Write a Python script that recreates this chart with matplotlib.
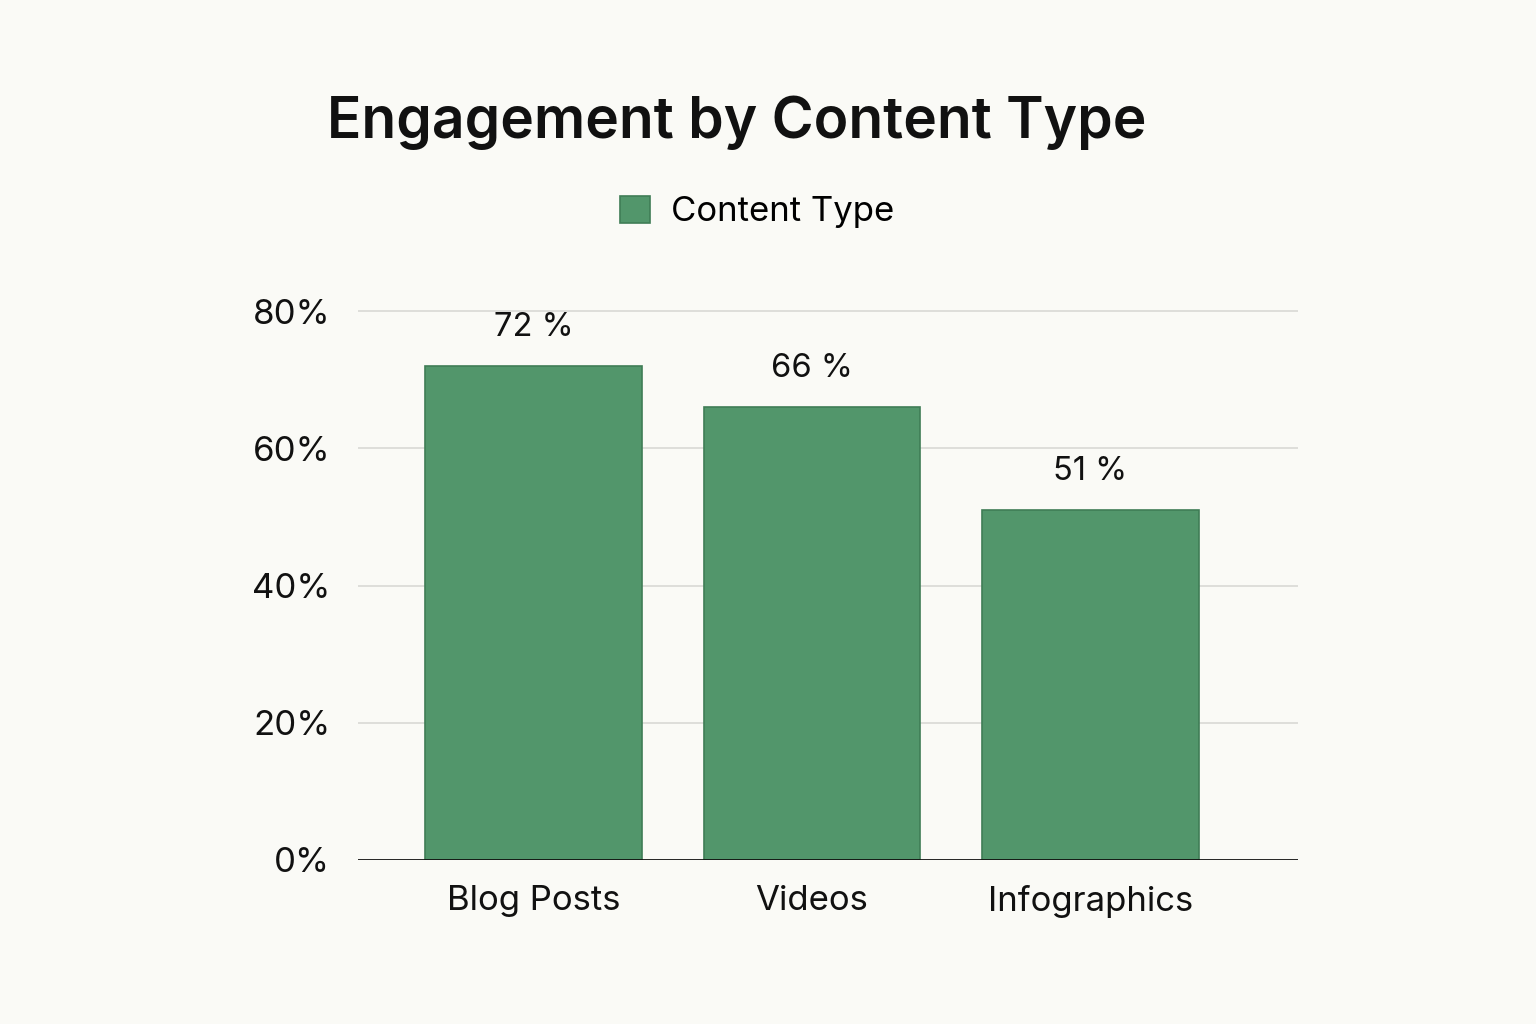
import matplotlib
matplotlib.use("Agg")
import matplotlib.pyplot as plt
from matplotlib.ticker import FuncFormatter

# data
categories = ["Blog Posts", "Videos", "Infographics"]
engagement = [72, 66, 51]
bar_labels = ["72 %", "66 %", "51 %"]
y_ticks = [0, 20, 40, 60, 80]

bg = "#fafaf6"
green = "#52966b"
edge = "#3f7d56"

plt.rcParams["font.family"] = ["Inter", "DejaVu Sans"]

fig = plt.figure(figsize=(15.36, 10.24), dpi=100, facecolor=bg)
ax = fig.add_axes([358 / 1536, 1 - 860 / 1024, 940 / 1536, (860 - 250) / 1024])
ax.set_facecolor(bg)

x = list(range(len(categories)))
bars = ax.bar(x, engagement, width=0.776, color=green, edgecolor=edge,
              linewidth=1.2, label="Content Type", zorder=3)

for b, lab in zip(bars, bar_labels):
    ax.text(b.get_x() + b.get_width() / 2, b.get_height() + 3.3, lab,
            ha="center", va="bottom", fontsize=23.5, color="#111111")

ax.set_xlim(-0.63, 2.745)
ax.set_ylim(0, 80 * 610 / 549)
ax.set_yticks(y_ticks)
ax.yaxis.set_major_formatter(FuncFormatter(lambda v, p: f"{int(v)}%"))
ax.set_xticks(x)
ax.set_xticklabels(categories)
ax.tick_params(axis="both", length=0, labelsize=25, colors="#111111")
ax.tick_params(axis="y", pad=20)
ax.tick_params(axis="x", pad=18)

for t in y_ticks[1:]:
    ax.axhline(t, color="#dcdcd8", linewidth=1.3, zorder=1)
ax.axhline(0, color="#111111", linewidth=2, zorder=4)

for s in ax.spines.values():
    s.set_visible(False)

fig.text(737 / 1536, 1 - 123 / 1024, "Engagement by Content Type",
         ha="center", va="center", fontsize=41, fontweight="semibold",
         color="#111111")

leg = fig.legend(handles=[bars], labels=["Content Type"],
                 loc="center", bbox_to_anchor=(757 / 1536, 1 - 212 / 1024),
                 frameon=False, fontsize=25, handlelength=0.85, handleheight=0.85,
                 handletextpad=0.6)

fig.savefig("out.png", dpi=100, facecolor=bg)
